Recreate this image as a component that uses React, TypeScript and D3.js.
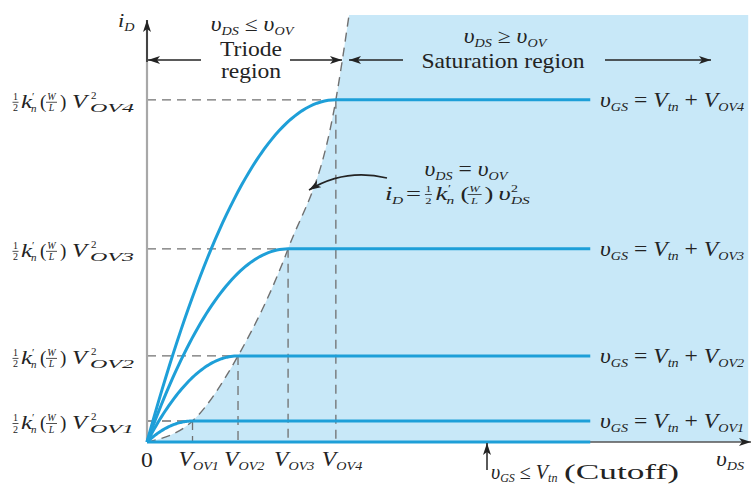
import React from 'react';
import * as d3 from 'd3';

const W = 753;
const H = 485;

// Overdrive voltages V_OV1..V_OV4 and the matching saturation currents (arbitrary units)
const overdrive = [1, 2, 3.1, 4.15];
const satCurrent = [0.5, 2.05, 4.6, 8.15];
const curveIds = ['1', '2', '3', '4'];

// Triode / saturation boundary  vDS = vOV
const boundaryV = [0, 1, 2, 3.1, 4.15, 4.44];
const boundaryI = [0, 0.5, 2.05, 4.6, 8.15, 10.17];

// Extents of the characteristic lines and of the saturation region
const satLineEnd = 9.74;
const shadeRight = 13.21;
const shadeTop = 10.17;
const axisMaxV = 13.25;
const axisMaxI = 10.05;

const FONT = '"Liberation Serif", "Times New Roman", serif';
const INK = '#232323';
const BLUE = '#1e9fd8';
const SHADE = '#c8e8f8';
const DASH = '#707070';

const x = d3.scaleLinear().domain([0, axisMaxV]).range([147, 750]);
const y = d3.scaleLinear().domain([0, axisMaxI]).range([442, 20]);

type TxtProps = {
  x: number;
  y: number;
  sx?: number;
  size?: number;
  anchor?: 'start' | 'middle' | 'end';
  italic?: boolean;
  len?: number;
  children: React.ReactNode;
};

function Txt({ x: tx, y: ty, sx = 1.18, size = 20, anchor = 'start', italic = false, len, children }: TxtProps) {
  return (
    <text
      transform={`translate(${tx},${ty}) scale(${sx},1)`}
      fontSize={size}
      textAnchor={anchor}
      fontStyle={italic ? 'italic' : 'normal'}
      fill={INK}
      style={{ whiteSpace: 'pre' }}
      textLength={len}
      lengthAdjust={len ? 'spacingAndGlyphs' : undefined}
    >
      {children}
    </text>
  );
}

// small stacked fraction
function Frac({ cx, top, bottom, w, size = 10, italic = false }: { cx: number; top: string; bottom: string; w: number; size?: number; italic?: boolean }) {
  return (
    <g fontSize={size} fontStyle={italic ? 'italic' : 'normal'} fill={INK} textAnchor="middle">
      <text x={cx} y={-8}>{top}</text>
      <line x1={cx - w / 2} x2={cx + w / 2} y1={-5.5} y2={-5.5} stroke={INK} strokeWidth={0.8} />
      <text x={cx} y={3.5}>{bottom}</text>
    </g>
  );
}

// ½ k'n (W/L) V²_OVn
function CoefLabel({ baseline, id }: { baseline: number; id: string }) {
  return (
    <g transform={`translate(0,${baseline})`} fontFamily={FONT} fill={INK}>
      <Frac cx={15.5} top="1" bottom="2" w={6} />
      <text x={21} y={0} fontSize={19} fontStyle="italic" textLength={11} lengthAdjust="spacingAndGlyphs">k</text>
      <text x={32} y={-8} fontSize={11}>′</text>
      <text x={31} y={4} fontSize={11} fontStyle="italic">n</text>
      <text x={40} y={0} fontSize={19}>(</text>
      <Frac cx={51.5} top="W" bottom="L" w={11} italic />
      <text x={60} y={0} fontSize={19}>)</text>
      <text x={72} y={0} fontSize={19} fontStyle="italic" textLength={15} lengthAdjust="spacingAndGlyphs">V</text>
      <text x={91} y={-9} fontSize={11}>2</text>
      <text x={90} y={4} fontSize={12} fontStyle="italic" textLength={44} lengthAdjust="spacingAndGlyphs">{'OV' + id}</text>
    </g>
  );
}

function GateLabel({ baseline, id }: { baseline: number; id: string }) {
  return (
    <Txt x={600} y={baseline}>
      <tspan fontStyle="italic">υ</tspan>
      <tspan fontSize={12} fontStyle="italic" dy={4}>GS</tspan>
      <tspan dy={-4}> = </tspan>
      <tspan fontStyle="italic">V</tspan>
      <tspan fontSize={12} fontStyle="italic" dy={4}>tn</tspan>
      <tspan dy={-4}> + </tspan>
      <tspan fontStyle="italic">V</tspan>
      <tspan fontSize={12} fontStyle="italic" dy={4}>{'OV' + id}</tspan>
    </Txt>
  );
}

export default function App() {
  const line = d3
    .line<[number, number]>()
    .x((d) => x(d[0]))
    .y((d) => y(d[1]));

  const boundaryPts: [number, number][] = boundaryV.map((v, i) => [v, boundaryI[i]]);
  const boundaryPath = d3
    .line<[number, number]>()
    .x((d) => x(d[0]))
    .y((d) => y(d[1]))
    .curve(d3.curveMonotoneX)(boundaryPts) as string;
  const shadePath =
    boundaryPath + `L${x(shadeRight)},${y(shadeTop)}L${x(shadeRight)},${y(0)}Z`;

  // iD = Isat (2t - t²), t = vDS / VOV, then flat in saturation
  const characteristic = (k: number) => {
    const vov = overdrive[k];
    const isat = satCurrent[k];
    const pts: [number, number][] = d3
      .range(0, 1.0001, 0.02)
      .map((t) => [t * vov, isat * (2 * t - t * t)] as [number, number]);
    pts.push([satLineEnd, isat]);
    return line(pts) as string;
  };

  return (
    <svg
      width={W}
      height={H}
      viewBox={`0 0 ${W} ${H}`}
      style={{ position: 'absolute', left: 0, top: 0, background: '#fff' }}
      fontFamily={FONT}
    >
      <defs>
        <marker id="ah" viewBox="0 0 12 8" refX={12} refY={4} markerWidth={12} markerHeight={8} markerUnits="userSpaceOnUse" orient="auto">
          <path d="M0,0L12,4L0,8L3,4Z" fill={INK} />
        </marker>
      </defs>

      {/* saturation region */}
      <path d={shadePath} fill={SHADE} />

      {/* guide lines to the saturation points */}
      {overdrive.map((v, k) => (
        <g key={'g' + k} stroke={DASH} strokeWidth={1.3} strokeDasharray="9 6" fill="none">
          <line x1={x(0)} x2={x(v)} y1={y(satCurrent[k])} y2={y(satCurrent[k])} />
          <line x1={x(v)} x2={x(v)} y1={y(satCurrent[k])} y2={y(0)} />
        </g>
      ))}
      <path d={boundaryPath} fill="none" stroke={DASH} strokeWidth={1.4} strokeDasharray="9 6" />

      {/* axes */}
      <line x1={x(0)} x2={x(0)} y1={y(0)} y2={20} stroke="#a8a8a8" strokeWidth={2.2} />
      <path d={`M${x(0)},${y(0) - 380}L${x(0)},20`} stroke={INK} strokeWidth={1.5} markerEnd="url(#ah)" />
      <line x1={x(0)} x2={751} y1={y(0)} y2={y(0)} stroke="#555" strokeWidth={1.5} markerEnd="url(#ah)" />

      {/* characteristics */}
      <line x1={x(0)} x2={x(satLineEnd)} y1={y(0)} y2={y(0)} stroke={BLUE} strokeWidth={3.2} />
      {overdrive.map((_, k) => (
        <path key={'c' + k} d={characteristic(k)} fill="none" stroke={BLUE} strokeWidth={3} />
      ))}

      {/* axis labels */}
      <Txt x={118} y={27} size={19}>
        <tspan fontStyle="italic">i</tspan>
        <tspan fontSize={12} fontStyle="italic" dy={4}>D</tspan>
      </Txt>
      <Txt x={716} y={466}>
        <tspan fontStyle="italic">υ</tspan>
        <tspan fontSize={12} fontStyle="italic" dy={4}>DS</tspan>
      </Txt>
      <Txt x={x(0)} y={467} anchor="middle">0</Txt>
      {overdrive.map((v, k) => (
        <Txt key={'t' + k} x={x(v) - 14} y={466}>
          <tspan fontStyle="italic">V</tspan>
          <tspan fontSize={12} fontStyle="italic" dy={4}>{'OV' + curveIds[k]}</tspan>
        </Txt>
      ))}
      {satCurrent.map((c, k) => (
        <CoefLabel key={'l' + k} baseline={y(c) + 8} id={curveIds[k]} />
      ))}
      {satCurrent.map((c, k) => (
        <GateLabel key={'r' + k} baseline={y(c) + 7} id={curveIds[k]} />
      ))}

      {/* region headers */}
      <Txt x={252} y={31} anchor="middle">
        <tspan fontStyle="italic">υ</tspan>
        <tspan fontSize={12} fontStyle="italic" dy={4}>DS</tspan>
        <tspan dy={-4}> ≤ </tspan>
        <tspan fontStyle="italic">υ</tspan>
        <tspan fontSize={12} fontStyle="italic" dy={4}>OV</tspan>
      </Txt>
      <Txt x={251} y={56} anchor="middle">Triode</Txt>
      <Txt x={251} y={78} anchor="middle">region</Txt>
      <Txt x={505} y={43} anchor="middle">
        <tspan fontStyle="italic">υ</tspan>
        <tspan fontSize={12} fontStyle="italic" dy={4}>DS</tspan>
        <tspan dy={-4}> ≥ </tspan>
        <tspan fontStyle="italic">υ</tspan>
        <tspan fontSize={12} fontStyle="italic" dy={4}>OV</tspan>
      </Txt>
      <Txt x={503} y={68} anchor="middle">Saturation region</Txt>

      <g stroke={INK} strokeWidth={1.5} fill="none">
        <line x1={201} y1={60} x2={148} y2={60} markerEnd="url(#ah)" />
        <line x1={290} y1={60} x2={342} y2={60} markerEnd="url(#ah)" />
        <line x1={403} y1={60} x2={349} y2={60} markerEnd="url(#ah)" />
        <line x1={605} y1={60} x2={711} y2={60} markerEnd="url(#ah)" />
        <path d="M387,178 Q345,168 309,190" markerEnd="url(#ah)" />
        <line x1={487} y1={470} x2={487} y2={443} markerEnd="url(#ah)" />
      </g>

      {/* boundary annotation */}
      <Txt x={466} y={176} anchor="middle">
        <tspan fontStyle="italic">υ</tspan>
        <tspan fontSize={12} fontStyle="italic" dy={4}>DS</tspan>
        <tspan dy={-4}> = </tspan>
        <tspan fontStyle="italic">υ</tspan>
        <tspan fontSize={12} fontStyle="italic" dy={4}>OV</tspan>
      </Txt>
      <g transform="translate(385,200) scale(1.4,1)" fontFamily={FONT} fill={INK}>
        <text x={0} y={0} fontSize={19} fontStyle="italic">i</text>
        <text x={5} y={4} fontSize={11} fontStyle="italic">D</text>
        <text x={15} y={0} fontSize={19}>=</text>
        <Frac cx={31} top="1" bottom="2" w={5} size={9} />
        <text x={36} y={0} fontSize={19} fontStyle="italic">k</text>
        <text x={45} y={-8} fontSize={10}>′</text>
        <text x={44} y={4} fontSize={11} fontStyle="italic">n</text>
        <text x={54} y={0} fontSize={19}>(</text>
        <Frac cx={64} top="W" bottom="L" w={10} size={9} italic />
        <text x={71} y={0} fontSize={19}>)</text>
        <text x={81} y={0} fontSize={19} fontStyle="italic">υ</text>
        <text x={90} y={-8} fontSize={10}>2</text>
        <text x={90} y={4} fontSize={11} fontStyle="italic">DS</text>
      </g>

      {/* cutoff note */}
      <Txt x={491} y={479} sx={1}>
        <tspan fontStyle="italic">υ</tspan>
        <tspan fontSize={12} fontStyle="italic" dy={3}>GS</tspan>
        <tspan dy={-3}> ≤ </tspan>
        <tspan fontStyle="italic">V</tspan>
        <tspan fontSize={12} fontStyle="italic" dy={3}>tn</tspan>
      </Txt>
      <Txt x={564} y={479} sx={1} len={115}>(Cutoff)</Txt>
    </svg>
  );
}
